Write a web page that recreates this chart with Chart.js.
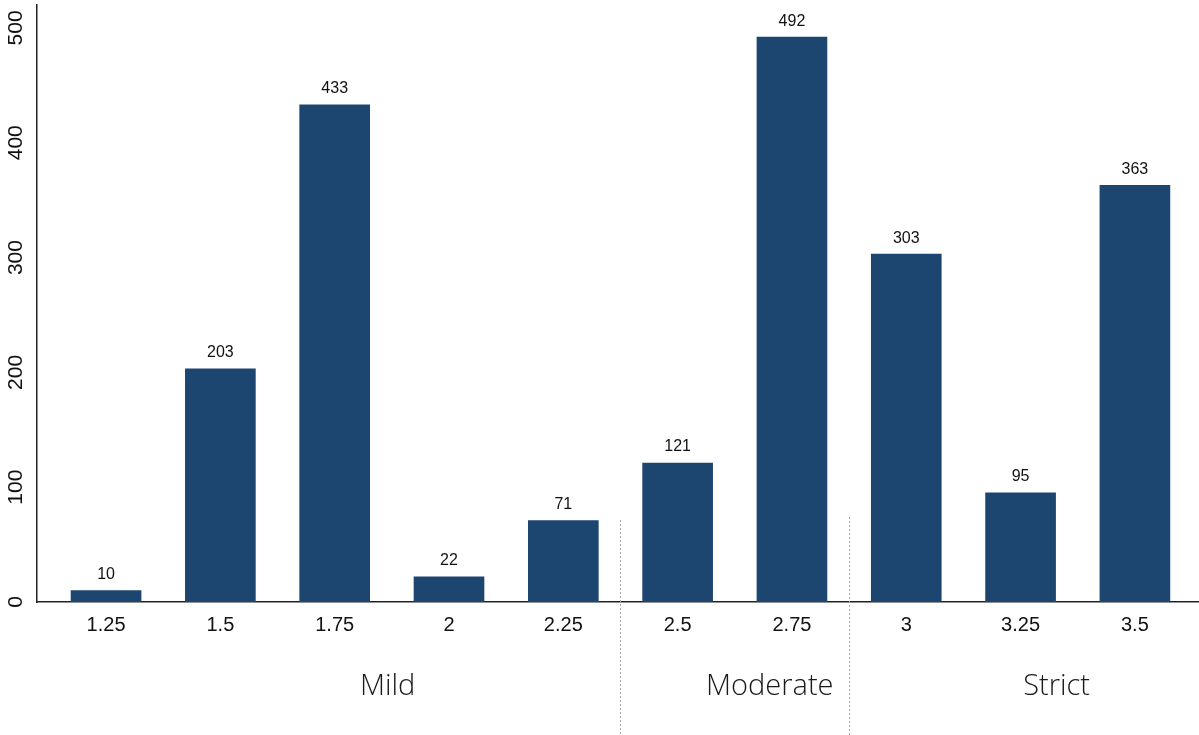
<!DOCTYPE html>
<html>
<head>
<meta charset="utf-8">
<script src="https://cdn.jsdelivr.net/npm/chart.js@4/dist/chart.umd.min.js"></script>
<style>
  html, body { margin: 0; padding: 0; background: #ffffff; }
  #wrap { width: 1199px; height: 735px; position: relative; }
</style>
</head>
<body>
<div id="wrap"><canvas id="chart"></canvas></div>
<script>
// Severity thresholds (x) and counts (y)
const categories = [1.25, 1.5, 1.75, 2, 2.25, 2.5, 2.75, 3, 3.25, 3.5];
const categoryLabels = ['1.25', '1.5', '1.75', '2', '2.25', '2.5', '2.75', '3', '3.25', '3.5'];
const counts = [10, 203, 433, 22, 71, 121, 492, 303, 95, 363];
const yTicks = [0, 100, 200, 300, 400, 500];

// Groups of thresholds shown under the axis
const groupNames = ['Mild', 'Moderate', 'Strict'];
const groupFirst = [1.25, 2.5, 3];
const groupLast = [2.25, 2.75, 3.5];

const BAR_COLOR = '#1c4670';
const TICK_FONT = 'Liberation Sans, Arial, sans-serif';

const valueLabels = {
  id: 'valueLabels',
  afterDatasetsDraw(chart) {
    const ctx = chart.ctx;
    const meta = chart.getDatasetMeta(0);
    ctx.save();
    ctx.fillStyle = '#111111';
    ctx.font = '16px ' + TICK_FONT;
    ctx.textAlign = 'center';
    ctx.textBaseline = 'bottom';
    meta.data.forEach((bar, i) => {
      ctx.fillText(String(counts[i]), bar.x, bar.y - 8);
    });
    ctx.restore();
  }
};

const groupBands = {
  id: 'groupBands',
  afterDraw(chart) {
    const ctx = chart.ctx;
    const xs = chart.scales.x;
    const bottom = chart.chartArea.bottom;
    ctx.save();
    // dotted separators between groups
    ctx.strokeStyle = '#a8a8a8';
    ctx.lineWidth = 1;
    ctx.setLineDash([2, 2]);
    const sepTop = [0, 520, 517];
    for (let g = 1; g < groupNames.length; g++) {
      const v = (groupLast[g - 1] + groupFirst[g]) / 2;
      const px = Math.round(xs.getPixelForValue(v)) + 0.5;
      ctx.beginPath();
      ctx.moveTo(px, sepTop[g]);
      ctx.lineTo(px, chart.height);
      ctx.stroke();
    }
    ctx.setLineDash([]);
    // group names
    ctx.fillStyle = '#1a1a1a';
    ctx.font = '300 29px "Open Sans", sans-serif';
    ctx.textAlign = 'center';
    ctx.textBaseline = 'middle';
    const shift = [53, 35, 36];
    groupNames.forEach((name, g) => {
      const mid = (groupFirst[g] + groupLast[g]) / 2;
      ctx.fillText(name, xs.getPixelForValue(mid) + shift[g], bottom + 85);
    });
    ctx.restore();
  }
};

new Chart(document.getElementById('chart'), {
  type: 'bar',
  data: {
    datasets: [{
      data: categories.map((c, i) => ({ x: c, y: counts[i] })),
      backgroundColor: BAR_COLOR,
      borderWidth: 0,
      barThickness: 70
    }]
  },
  options: {
    responsive: true,
    maintainAspectRatio: false,
    animation: false,
    layout: { padding: { top: 5, right: 1, left: 0, bottom: 0 } },
    plugins: { legend: { display: false }, tooltip: { enabled: false } },
    scales: {
      x: {
        type: 'linear',
        offset: false,
        min: 1.099,
        max: 3.638,
        grid: { display: false, drawTicks: false },
        border: { display: true, color: '#222222', width: 1.5 },
        afterBuildTicks(scale) { scale.ticks = categories.map(v => ({ value: v })); },
        afterFit(scale) { scale.height = 133; scale.paddingLeft = 0; scale.paddingRight = 0; },
        ticks: {
          padding: 11,
          color: '#111111',
          font: { family: TICK_FONT, size: 20 },
          maxRotation: 0,
          autoSkip: false,
          callback: (v) => categoryLabels[categories.indexOf(v)]
        }
      },
      y: {
        min: 0,
        max: 520,
        grid: { display: false, drawTicks: false },
        border: { display: true, color: '#222222', width: 1.5 },
        afterBuildTicks(scale) { scale.ticks = yTicks.map(v => ({ value: v })); },
        afterFit(scale) { scale.width = 37; scale.paddingTop = 0; scale.paddingBottom = 0; },
        ticks: {
          minRotation: 90,
          maxRotation: 90,
          crossAlign: 'center',
          padding: 3,
          color: '#111111',
          font: { family: TICK_FONT, size: 21 }
        }
      }
    }
  },
  plugins: [valueLabels, groupBands]
});
</script>
</body>
</html>
